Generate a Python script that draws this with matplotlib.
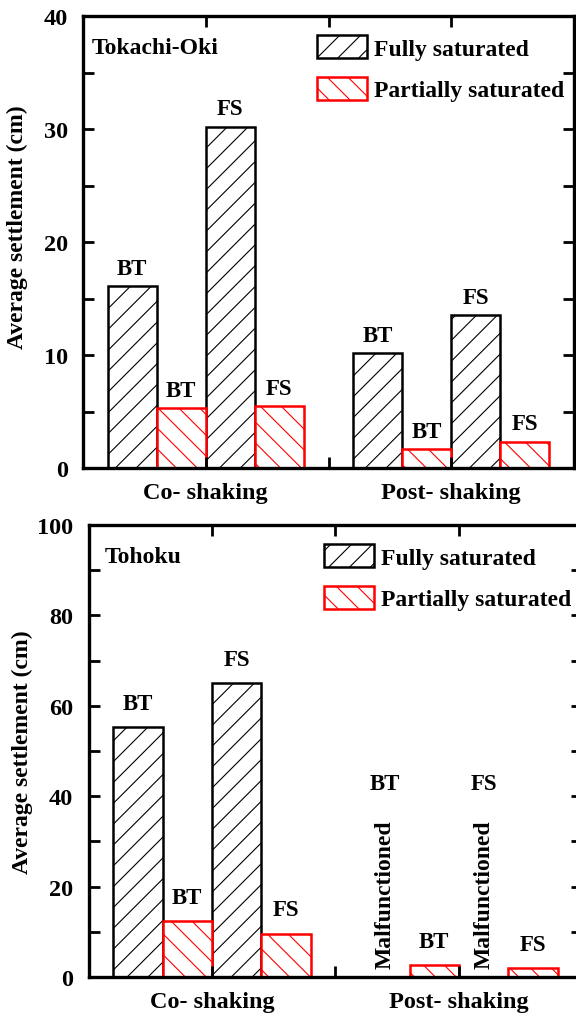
import numpy as np
import matplotlib
matplotlib.use("Agg")
import matplotlib.pyplot as plt
from matplotlib.patches import Patch
from matplotlib.ticker import MultipleLocator

### data
groups = ["Co- shaking", "Post- shaking"]
sites = ["BT", "FS"]
# order: co BT, co FS, post BT, post FS
tokachi_full = [16.1, 30.2, 10.15, 13.5]
tokachi_partial = [5.3, 5.45, 1.65, 2.3]
tohoku_full = [55.2, 65.1, np.nan, np.nan]   # post-shaking sensors malfunctioned
tohoku_partial = [12.3, 9.6, 2.7, 2.0]

# render at 125 dpi so the hatch lines are spaced like the original;
# sizes below are written for 100 dpi and scaled by K
DPI = 125
K = 100 / DPI

plt.rcParams["font.family"] = ["Liberation Serif", "DejaVu Serif"]
plt.rcParams["font.weight"] = "bold"
plt.rcParams["axes.labelweight"] = "bold"
plt.rcParams["hatch.linewidth"] = 0.8 * K

fig = plt.figure(figsize=(576 / DPI, 1021 / DPI), dpi=DPI)
ax1 = fig.add_axes([83 / 576, 1 - 469 / 1021, 491 / 576, 452 / 1021])
ax2 = fig.add_axes([88.5 / 576, 1 - 978 / 1021, 494 / 576, 452 / 1021])

w = 0.4
x_full = np.array([2 * g + 0.4 + 0.8 * s for g in range(2) for s in range(2)])
x_part = x_full + w


def draw(ax, full, part, ymax, major, minor, title, title_x, label_off, ylab_y):
    ax.bar(x_full, full, w, color="white", edgecolor="black", hatch="//", linewidth=1.8 * K)
    ax.bar(x_part, part, w, color="white", edgecolor="red", hatch="\\\\", linewidth=1.8 * K)
    names = sites * 2
    for xx, v, n in zip(x_full, full, names):
        if not np.isnan(v):
            ax.annotate(n, (xx, v), xytext=(0, label_off * K), textcoords="offset points",
                        ha="center", va="center", fontsize=16.5 * K)
    for xx, v, n in zip(x_part, part, names):
        ax.annotate(n, (xx, v), xytext=(0, label_off * K), textcoords="offset points",
                    ha="center", va="center", fontsize=16.5 * K)

    ax.set_xlim(0, 4)
    ax.set_ylim(0, ymax)
    ax.set_xticks([1, 2, 3])
    ax.set_xticklabels([groups[0], "", groups[1]], fontsize=17.5 * K)
    ax.yaxis.set_major_locator(MultipleLocator(major))
    ax.yaxis.set_minor_locator(MultipleLocator(minor))
    ax.tick_params(axis="y", which="both", direction="in", left=True, right=True,
                   length=8 * K, width=2 * K, labelsize=17.5 * K, pad=11 * K)
    ax.tick_params(axis="x", direction="in", top=True, bottom=True,
                   length=8 * K, width=2 * K, pad=10 * K)
    for sp in ax.spines.values():
        sp.set_linewidth(2.4 * K)

    ax.set_ylabel("Average settlement (cm)", fontsize=17 * K)
    ax.yaxis.set_label_coords(-0.112, ylab_y)
    ax.text(title_x, 0.93, title, transform=ax.transAxes, va="center", fontsize=17 * K)

    handles = [Patch(facecolor="white", edgecolor="black", hatch="//", linewidth=1.8 * K),
               Patch(facecolor="white", edgecolor="red", hatch="\\\\", linewidth=1.8 * K)]
    ax.legend(handles, ["Fully saturated", "Partially saturated"], loc="upper left",
              bbox_to_anchor=(0.477, 0.957), frameon=False, fontsize=17 * K,
              handlelength=2.1, handleheight=1.1, handletextpad=0.3,
              labelspacing=0.73, borderpad=0, borderaxespad=0)


draw(ax1, tokachi_full, tokachi_partial, 40, 10, 5, "Tokachi-Oki", 0.018, 13, 0.535)
draw(ax2, tohoku_full, tohoku_partial, 100, 20, 10, "Tohoku", 0.033, 17, 0.5)

# malfunctioned fully saturated gauges in Tohoku post-shaking
for xx, n in zip(x_full[2:], sites):
    ax2.text(xx, 40.5, n, ha="center", va="bottom", fontsize=16.5 * K)
    ax2.text(xx, 2, "Malfunctioned", rotation=90, ha="center", va="bottom", fontsize=17 * K)

fig.savefig("out.png", dpi=DPI)
